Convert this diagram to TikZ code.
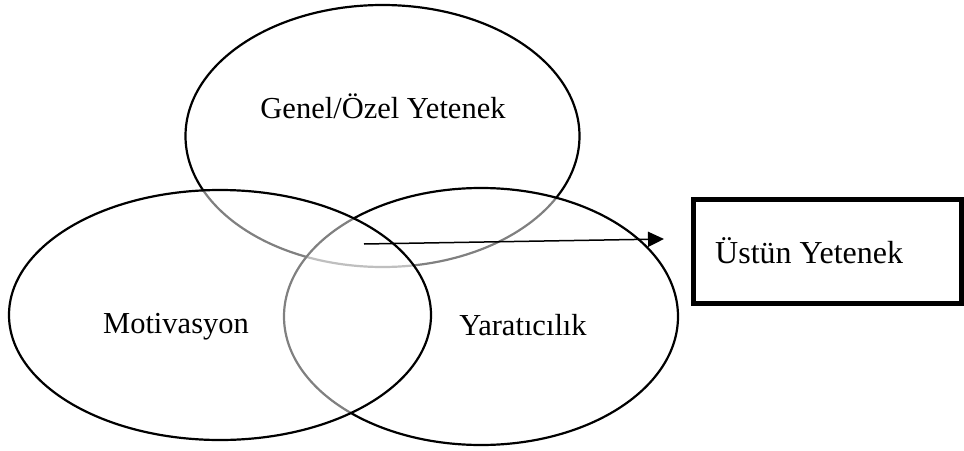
\documentclass[tikz,border=0pt]{standalone}
\usepackage{fontspec}
\setmainfont{Liberation Serif}
\usetikzlibrary{shapes.geometric,arrows.meta}

\tikzset{
  circ/.style={ellipse, draw=black, line width=2.2pt, inner sep=0pt},
  veil/.style={fill=white, fill opacity=0.5},
  lbl/.style={anchor=base, inner sep=0pt, font=\fontsize{30.5}{36}\selectfont},
  biglbl/.style={lbl, font=\fontsize{32}{38}\selectfont},
  outbox/.style={rectangle, draw=black, line width=5pt, inner sep=0pt,
                 minimum width=268pt, minimum height=104pt},
  link/.style={line width=1.5pt, -{Triangle[length=16pt,width=15pt]}}
}

\begin{document}
\begin{tikzpicture}[x=1pt,y=-1pt]
  \useasboundingbox (0,0) rectangle (964,450);

  % three overlapping ellipses; later ones veil the lines underneath
  \node[circ, minimum width=394pt, minimum height=262pt] (gen) at (382.5,136) {};
  \node[circ, veil, minimum width=394pt, minimum height=257pt] (yar) at (481,316.5) {};
  \node[circ, veil, minimum width=422pt, minimum height=250pt] (mot) at (220,315) {};

  % labels
  \node[lbl] (tgen) at (383,118) {Genel/Özel Yetenek};
  \node[lbl] (tmot) at (176,333) {Motivasyon};
  \node[lbl] (tyar) at (523,335) {Yaratıcılık};

  % result box
  \node[outbox] (box) at (827.5,251.5) {};
  \node[biglbl, anchor=base west] (tbox) at (715,263) {Üstün Yetenek};

  % arrow from the common region to the result
  \coordinate (core) at (364,244);
  \coordinate (tip) at (664,239);
  \draw[link] (core) -- (tip);
\end{tikzpicture}
\end{document}
